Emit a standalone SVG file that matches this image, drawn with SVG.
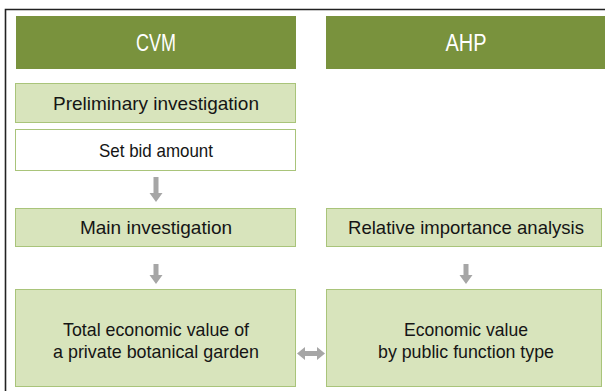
<svg xmlns="http://www.w3.org/2000/svg" width="605" height="391" viewBox="0 0 605 391">
  <style>
    .frame { fill: none; stroke: #222; stroke-width: 1.6; }
    .head { fill: #79923d; }
    .head-t { font-family: "Liberation Sans", Arial, sans-serif; font-size: 23px; fill: #fff; text-anchor: middle; }
    .box { fill: #d8e4bc; stroke: #a9c47a; stroke-width: 1; }
    .box-w { fill: #fff; stroke: #a9c47a; stroke-width: 1; }
    .t { font-family: "Liberation Sans", Arial, sans-serif; font-size: 19px; fill: #151515; text-anchor: middle; }
    .arrow { fill: #a6a6a6; }
  </style>
  <rect width="605" height="391" fill="#fff"/>
  <path class="frame" d="M5.5 391 V9.5 H605"/>

  <!-- column headers -->
  <g id="cvm-header">
    <rect class="head" x="16" y="16" width="280" height="53"/>
    <text class="head-t" x="156" y="50.5" textLength="40" lengthAdjust="spacingAndGlyphs">CVM</text>
  </g>
  <g id="ahp-header">
    <rect class="head" x="326" y="16" width="279" height="53"/>
    <text class="head-t" x="466" y="50.5" textLength="41" lengthAdjust="spacingAndGlyphs">AHP</text>
  </g>

  <!-- CVM column -->
  <g id="node-prelim">
    <rect class="box" x="15.5" y="83.5" width="280" height="39"/>
    <text class="t" x="156" y="109.5">Preliminary investigation</text>
  </g>
  <g id="node-bid">
    <rect class="box-w" x="15.5" y="129.5" width="280" height="41"/>
    <text class="t" x="156" y="157" textLength="114" lengthAdjust="spacingAndGlyphs">Set bid amount</text>
  </g>
  <g id="node-main">
    <rect class="box" x="15.5" y="208.5" width="280" height="38"/>
    <text class="t" x="156" y="234">Main investigation</text>
  </g>
  <g id="node-total">
    <rect class="box" x="15.5" y="289.5" width="280" height="97"/>
    <text class="t" x="156" y="335.5" textLength="186" lengthAdjust="spacingAndGlyphs">Total economic value of</text>
    <text class="t" x="156" y="358" textLength="206" lengthAdjust="spacingAndGlyphs">a private botanical garden</text>
  </g>

  <!-- AHP column -->
  <g id="node-relative">
    <rect class="box" x="326.5" y="208.5" width="275" height="38"/>
    <text class="t" x="466" y="234" textLength="236" lengthAdjust="spacingAndGlyphs">Relative importance analysis</text>
  </g>
  <g id="node-econ">
    <rect class="box" x="326.5" y="289.5" width="275" height="97"/>
    <text class="t" x="466" y="335.5" textLength="124" lengthAdjust="spacingAndGlyphs">Economic value</text>
    <text class="t" x="466" y="358" textLength="176" lengthAdjust="spacingAndGlyphs">by public function type</text>
  </g>

  <!-- connectors -->
  <g id="connectors">
    <path class="arrow" d="M153.5 177 H158.5 V193 H162.5 L156 202 L149.5 193 H153.5 Z"/>
    <path class="arrow" d="M153.5 264 H158.5 V275 H162.5 L156 284 L149.5 275 H153.5 Z"/>
    <path class="arrow" d="M463.5 264 H468.5 V275 H472.5 L466 284 L459.5 275 H463.5 Z"/>
    <path class="arrow" d="M297 353.5 L305 347 V351 H317 V347 L325 353.5 L317 360 V356 H305 V360 Z"/>
  </g>
</svg>
